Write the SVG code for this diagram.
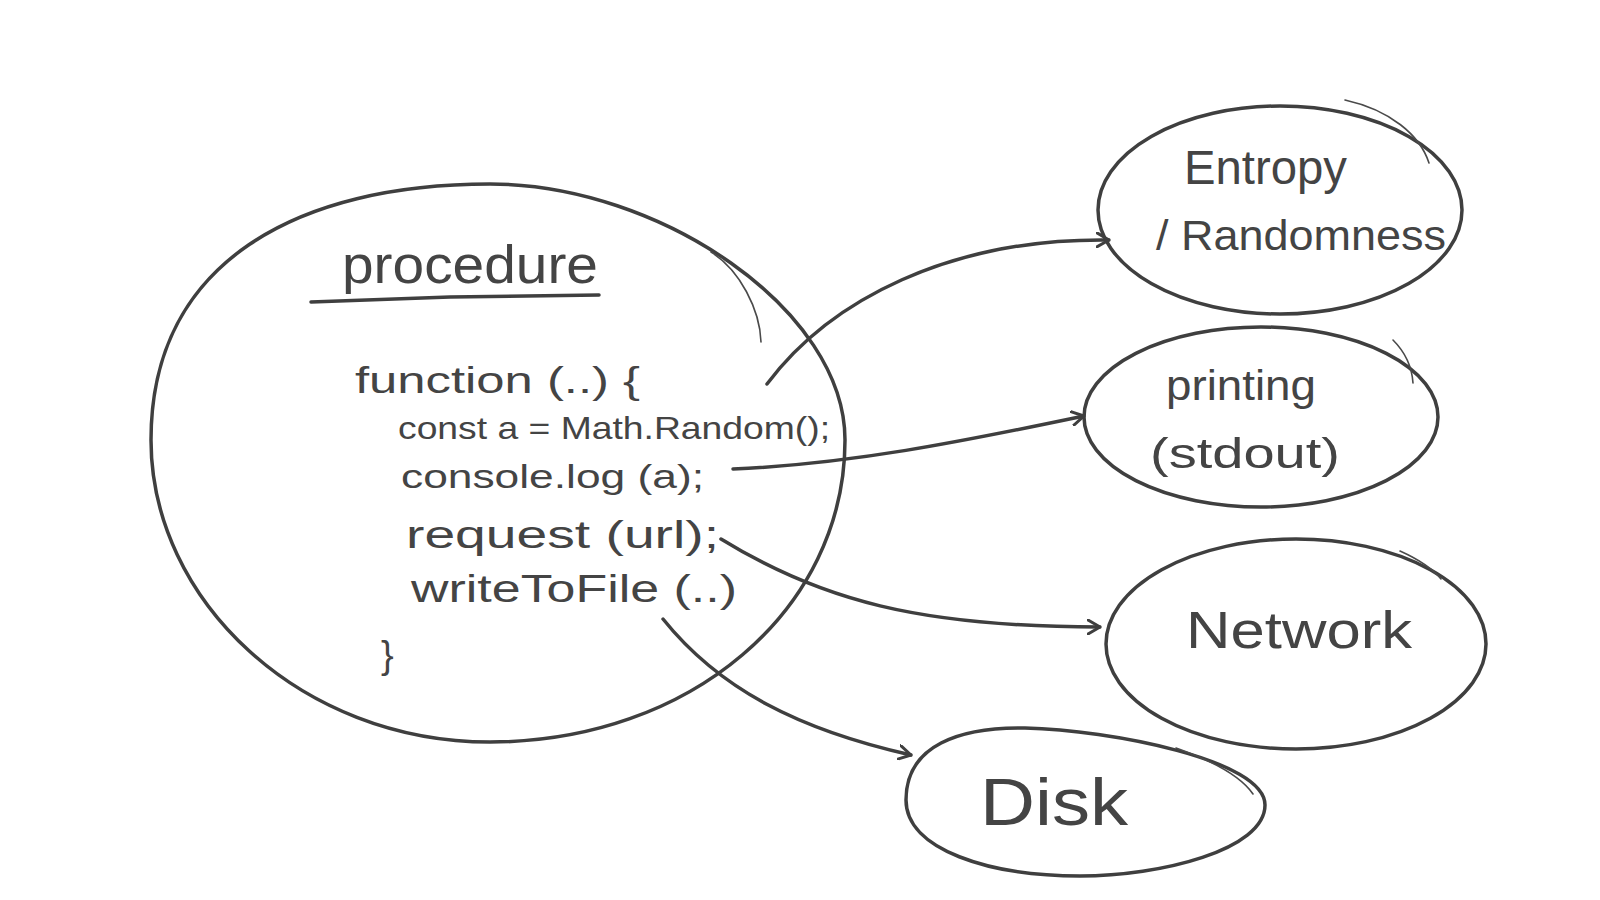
<svg xmlns="http://www.w3.org/2000/svg" width="1600" height="900" viewBox="0 0 1600 900">
<defs>
<style>
.s{fill:none;stroke:#3f3f3f;stroke-width:3.5;stroke-linecap:round;stroke-linejoin:round}
.t{fill:none;stroke:#4a4a4a;stroke-width:1.6;stroke-linecap:round}
.tx{font-family:"Liberation Sans",Arial,sans-serif;fill:#444}
</style>
<marker id="ah" viewBox="0 0 14 16" refX="13" refY="8" markerWidth="14" markerHeight="16" markerUnits="userSpaceOnUse" orient="auto">
<path d="M1,1 L13,8 L1,15" fill="none" stroke="#3f3f3f" stroke-width="3" stroke-linecap="round" stroke-linejoin="round"/>
</marker>
</defs>
<rect width="1600" height="900" fill="#ffffff"/>

<g id="procedure">
<path class="s" d="M490,184 C660,184 845,310 845,440 C845,610 690,742 490,742 C300,742 151,600 151,440 C151,260 300,184 490,184 Z"/>
<path class="t" d="M711,252 C740,270 760,310 761,342"/>
<text class="tx" x="342" y="283" font-size="54" textLength="256" lengthAdjust="spacingAndGlyphs">procedure</text>
<path class="s" d="M311,302 L450,297 L599,295" stroke-width="2.5"/>
<text class="tx" x="355" y="393" font-size="36" textLength="285" lengthAdjust="spacingAndGlyphs">function (..) {</text>
<text class="tx" x="398" y="439" font-size="32" textLength="432" lengthAdjust="spacingAndGlyphs">const a = Math.Random();</text>
<text class="tx" x="401" y="488" font-size="34" textLength="303" lengthAdjust="spacingAndGlyphs">console.log (a);</text>
<text class="tx" x="406" y="548" font-size="38" textLength="313" lengthAdjust="spacingAndGlyphs">request (url);</text>
<text class="tx" x="411" y="602" font-size="38" textLength="326" lengthAdjust="spacingAndGlyphs">writeToFile (..)</text>
<text class="tx" x="381" y="668" font-size="38">}</text>
</g>

<g id="entropy">
<ellipse class="s" cx="1280" cy="210" rx="182" ry="104"/>
<path class="t" d="M1345,100 C1390,110 1420,135 1429,163"/>
<text class="tx" x="1184" y="184" font-size="48" textLength="163" lengthAdjust="spacingAndGlyphs">Entropy</text>
<text class="tx" x="1156" y="250" font-size="42" textLength="290" lengthAdjust="spacingAndGlyphs">/ Randomness</text>
</g>

<g id="printing">
<ellipse class="s" cx="1261" cy="417" rx="177" ry="90"/>
<path class="t" d="M1393,340 C1405,352 1412,368 1413,383"/>
<text class="tx" x="1166" y="400" font-size="42" textLength="150" lengthAdjust="spacingAndGlyphs">printing</text>
<text class="tx" x="1150" y="468" font-size="42" textLength="190" lengthAdjust="spacingAndGlyphs">(stdout)</text>
</g>

<g id="network">
<ellipse class="s" cx="1296" cy="644" rx="190" ry="105"/>
<path class="t" d="M1400,551 C1420,560 1432,568 1441,579"/>
<text class="tx" x="1186" y="648" font-size="52" textLength="226" lengthAdjust="spacingAndGlyphs">Network</text>
</g>

<g id="disk">
<path class="s" d="M906,800 C906,745 960,727 1025,728 C1110,730 1265,760 1265,805 C1265,850 1160,876 1080,876 C990,876 906,850 906,800 Z"/>
<path class="t" d="M1176,748 C1210,760 1240,775 1253,794"/>
<text class="tx" x="980" y="825" font-size="66" textLength="148" lengthAdjust="spacingAndGlyphs">Disk</text>
</g>

<g id="connectors">
<path class="s" d="M767,384 C830,300 950,238 1109,240" marker-end="url(#ah)"/>
<path class="s" d="M733,469 C850,464 960,442 1084,416" marker-end="url(#ah)"/>
<path class="s" d="M721,539 C820,600 920,627 1100,627" marker-end="url(#ah)"/>
<path class="s" d="M663,619 C720,690 800,730 911,755" marker-end="url(#ah)"/>
</g>
</svg>
